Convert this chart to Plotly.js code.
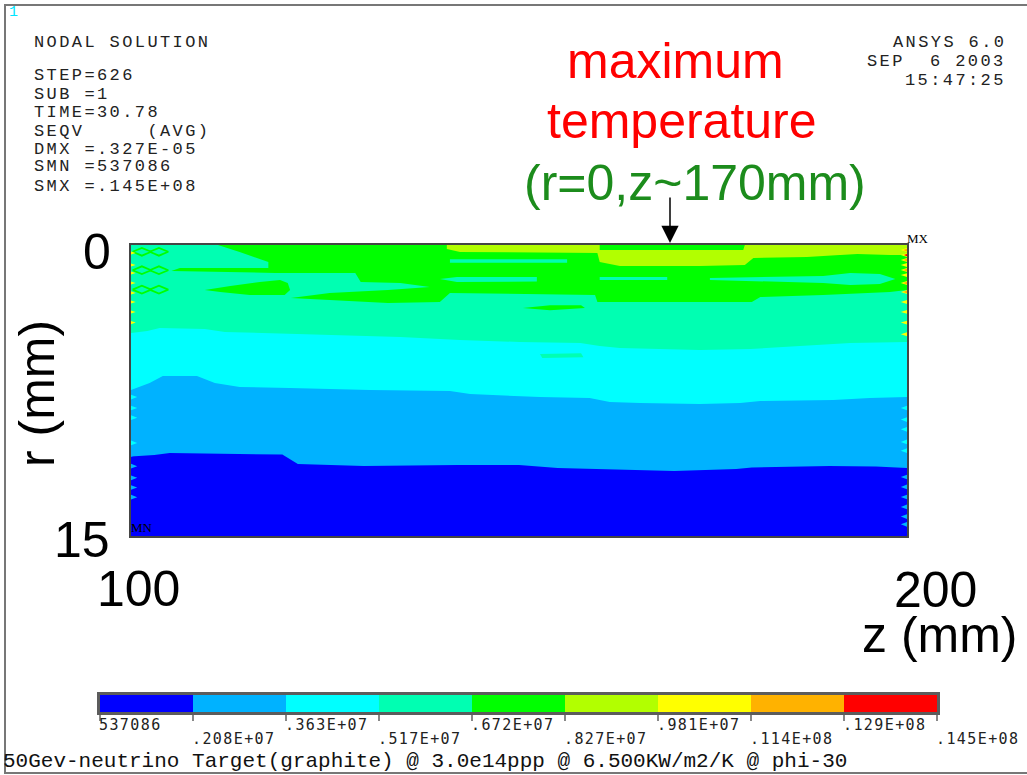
<!DOCTYPE html>
<html>
<head>
<meta charset="utf-8">
<script src="https://cdn.plot.ly/plotly-3.0.1.min.js"></script>
<style>html,body{margin:0;padding:0;background:#fff;}#chart{width:1027px;height:775px;}</style>
</head>
<body>
<div id="chart"></div>
<script>
// ---------------- DATA ----------------
// contour levels (SEQV) and legend labels
const levels = [537086, 2080000, 3630000, 5170000, 6720000, 8270000, 9810000, 11400000, 12900000, 14500000];
const levelLabels = ['537086', '.208E+07', '.363E+07', '.517E+07', '.672E+07', '.827E+07', '.981E+07', '.114E+08', '.129E+08', '.145E+08'];
const bandColors = ['#0000FF', '#00B2FF', '#00FFFF', '#00FFB2', '#00FF00', '#B2FF00', '#FFFF00', '#FFB200', '#FF0000'];

// header texts
const infoLines = ['STEP=626', 'SUB =1', 'TIME=30.78', 'SEQV     (AVG)', 'DMX =.327E-05', 'SMN =537086', 'SMX =.145E+08'];
const stampLines = ['ANSYS 6.0', 'SEP  6 2003', '15:47:25'];

// Band boundaries: r (mm) as a function of z (mm)
const edgeBottom_z = [100, 200];
const edgeBottom_r = [15, 15];

const b1_z = [100, 103, 105, 119.5, 121.5, 130, 142, 150, 155, 161, 170, 178, 180, 190, 196, 200];
const b1_r = [10.9, 10.82, 10.72, 10.8, 11.29, 11.39, 11.34, 11.34, 11.5, 11.55, 11.65, 11.55, 11.47, 11.39, 11.42, 11.5];

const b2_z = [100, 102.4, 104.1, 108.5, 110.8, 114, 120.5, 130.8, 141.1, 143.7, 152.7, 159.1, 161.7, 165.6, 173.3, 178.5, 181.1, 190.5, 195.2, 200];
const b2_r = [7.47, 7.11, 6.75, 6.75, 7.11, 7.32, 7.37, 7.47, 7.53, 7.68, 7.84, 7.89, 8.09, 8.14, 8.2, 8.14, 8.04, 7.99, 7.89, 7.84];

const b3_z = [100, 102.1, 103.7, 109.5, 112.1, 120.5, 125.6, 134.7, 142.4, 150.1, 157.9, 160.4, 163, 173.3, 179.8, 186.2, 192.7, 200];
const b3_r = [4.54, 4.43, 4.28, 4.33, 4.48, 4.59, 4.64, 4.74, 4.9, 5.0, 5.05, 5.21, 5.31, 5.41, 5.36, 5.21, 5.05, 5.0];

// Green (.672E+07 - .827E+07) regions
const greenMain_z = [111.2, 200, 200, 197.8, 189.2, 181.1, 180.0, 160.1, 159.8, 152.7, 141.1, 139.8, 133.1, 120.6, 125.6, 133.1, 138.5, 134.7, 129.6, 128.9, 118.6, 105.2, 106.3, 117.7, 117.7, 114.0];
const greenMain_r = [0, 0, 2.32, 2.42, 2.58, 2.68, 2.94, 2.94, 2.58, 2.53, 2.47, 2.94, 2.99, 2.73, 2.47, 2.32, 2.16, 1.96, 1.91, 1.44, 1.44, 1.34, 1.19, 1.19, 0.88, 0.36];
const greenTongue_z = [109.5, 112.8, 116.6, 119.2, 120.2, 120.5, 119.8, 115.3, 111.5];
const greenTongue_r = [2.32, 2.11, 1.91, 1.80, 1.96, 2.32, 2.58, 2.58, 2.42];
const greenSliver_z = [150.5, 154, 158, 158.5, 154];
const greenSliver_r = [3.25, 3.1, 3.1, 3.25, 3.36];
// green diamond chains near the left edge (z centres, r centres)
const diamond_z = [101.4, 103.6, 101.4, 103.6, 101.4, 103.6];
const diamond_r = [0.35, 0.35, 1.3, 1.3, 2.3, 2.3];

// Aqua (.517E+07 - .672E+07) streaks inside the green zone
const aqua1_z = [139.8, 142, 152.3, 152.3, 142];
const aqua1_r = [1.75, 1.65, 1.65, 1.88, 1.91];
const aqua2_z = [160.4, 169.1, 169.1, 160.4];
const aqua2_r = [1.65, 1.65, 1.80, 1.80];
const aqua3_z = [174.6, 189.2, 192.7, 196.5, 198.5, 196.5, 192.7, 189.2, 174.6];
const aqua3_r = [1.70, 1.60, 1.44, 1.49, 1.75, 2.01, 2.06, 1.96, 1.80];
const aqua4_z = [141.1, 156.2, 156.2, 141.1];
const aqua4_r = [0.74, 0.74, 0.92, 0.92];
const aquaSliver_z = [152.7, 158, 158.3, 153];
const aquaSliver_r = [5.62, 5.58, 5.78, 5.82];

// Yellow-green (.827E+07 - .981E+07) regions
const ygTop_z = [140.7, 160.4, 160.4, 142.4, 140.7];
const ygTop_r = [0, 0, 0.41, 0.36, 0.21];
const ygMain_z = [160.1, 178.9, 179.1, 200, 200, 197.8, 193.6, 187.1, 180.2, 179.1, 173.3, 163, 160.4, 160.1];
const ygMain_r = [0.26, 0.26, 0, 0, 0.52, 0.52, 0.46, 0.62, 0.67, 1.03, 1.08, 1.08, 0.88, 0.41];

// Jagged edge spikes (r centres)
const rightYellowR = [0.26, 0.52, 0.77, 1.03, 1.29, 1.55, 1.96, 2.42, 2.94, 3.45, 4.0, 4.6];
const rightOrangeR = [0.26, 0.77, 1.29, 1.96, 2.42];
const rightRedR = [0.52];
const leftYellowR = [0.41, 1.03, 1.44, 1.96, 2.47, 2.94, 3.45, 4.0];
const leftCyanR = [7.84, 8.4, 8.9, 10.2];
const leftLightBlueR = [10.8, 11.4, 12.0, 12.5, 13.0];
const rightCyanR = [8.4, 9.0, 9.5, 10.15, 10.6];
const rightLightBlueR = [11.96, 12.47, 12.99, 13.5, 14.0, 14.4];

// ---------------- DRAWING ----------------
const W = 1027, H = 775;
const PX0 = 131, PX1 = 907, PY0 = 245, PY1 = 536;

function band(z, r, color) {
  return {type: 'scatter', x: z, y: r, mode: 'lines', line: {width: 0, color: color},
          fill: 'tozeroy', fillcolor: color, hoverinfo: 'skip', showlegend: false, xaxis: 'x', yaxis: 'y'};
}
function poly(z, r, color) {
  return {type: 'scatter', x: z, y: r, mode: 'lines', line: {width: 0, color: color},
          fill: 'toself', fillcolor: color, hoverinfo: 'skip', showlegend: false, xaxis: 'x', yaxis: 'y'};
}
function spikes(side, rs, color, depth, half) {
  const xs = [], ys = [];
  const edge = side === 'left' ? 100 : 200;
  const tip = side === 'left' ? 100 + depth : 200 - depth;
  rs.forEach(r => { xs.push(edge, tip, edge, edge, null); ys.push(r - half, r, r + half, r - half, null); });
  return {type: 'scatter', x: xs, y: ys, mode: 'lines', line: {width: 0, color: color},
          fill: 'toself', fillcolor: color, hoverinfo: 'skip', showlegend: false, connectgaps: false};
}
function diamonds(zc, rc, color) {
  const xs = [], ys = [];
  zc.forEach((z, i) => {
    const r = rc[i];
    xs.push(z - 1.2, z, z + 1.2, z, z - 1.2, null);
    ys.push(r, r - 0.2, r, r + 0.2, r, null);
  });
  return {type: 'scatter', x: xs, y: ys, mode: 'lines', line: {width: 1.8, color: color},
          hoverinfo: 'skip', showlegend: false, connectgaps: false};
}

const traces = [
  band(edgeBottom_z, edgeBottom_r, bandColors[0]),
  band(b1_z, b1_r, bandColors[1]),
  band(b2_z, b2_r, bandColors[2]),
  band(b3_z, b3_r, bandColors[3]),
  spikes('left', leftLightBlueR, bandColors[1], 0.8, 0.12),
  spikes('right', rightLightBlueR, bandColors[1], 0.8, 0.12),
  spikes('left', leftCyanR, bandColors[2], 0.8, 0.12),
  spikes('right', rightCyanR, bandColors[2], 0.8, 0.12),
  poly(greenMain_z, greenMain_r, bandColors[4]),
  poly(greenTongue_z, greenTongue_r, bandColors[4]),
  poly(greenSliver_z, greenSliver_r, bandColors[4]),
  diamonds(diamond_z, diamond_r, bandColors[4]),
  poly(aqua1_z, aqua1_r, bandColors[3]),
  poly(aqua2_z, aqua2_r, bandColors[3]),
  poly(aqua3_z, aqua3_r, bandColors[3]),
  poly(aqua4_z, aqua4_r, bandColors[3]),
  poly(aquaSliver_z, aquaSliver_r, bandColors[3]),
  poly(ygTop_z, ygTop_r, bandColors[5]),
  poly(ygMain_z, ygMain_r, bandColors[5]),
  spikes('right', rightYellowR, bandColors[6], 0.8, 0.1),
  spikes('left', leftYellowR, bandColors[6], 0.6, 0.08),
  spikes('right', rightOrangeR, bandColors[7], 0.5, 0.07),
  spikes('right', rightRedR, bandColors[8], 0.4, 0.06),
  // legend bar
  {type: 'bar', x: bandColors.map((c, i) => i + 0.5), y: bandColors.map(() => 1), width: bandColors.map(() => 1),
   marker: {color: bandColors, line: {width: 0}}, xaxis: 'x2', yaxis: 'y2', hoverinfo: 'skip', showlegend: false}
];

function pa(text, x, y, o) {
  return Object.assign({xref: 'paper', yref: 'paper', x: x / W, y: 1 - y / H, text: text, showarrow: false,
                        xanchor: 'center', yanchor: 'middle'}, o || {});
}
function spaced(t, px) { return '<span style="letter-spacing:' + px + 'px">' + t + '</span>'; }
const big = {family: 'Liberation Sans, Arial, sans-serif', size: 50, color: '#000'};
const mono = {family: 'Liberation Mono, DejaVu Sans Mono, monospace', size: 17, color: '#222'};
const annotations = [
  pa('1', 13, 13, {font: {family: 'Liberation Mono, monospace', size: 15, color: '#00E5FF'}}),
  pa(spaced('NODAL SOLUTION', 2.4), 32, 43, {xanchor: 'left', font: mono}),
  pa('maximum', 675, 61, {font: Object.assign({}, big, {color: '#FF0000'})}),
  pa('temperature', 682, 121, {font: Object.assign({}, big, {color: '#FF0000'})}),
  pa('(r=0,z~170mm)', 695, 183, {font: Object.assign({}, big, {color: '#1C8C1C'})}),
  pa('', 670, 243, {showarrow: true, ax: 0, ay: -47, arrowhead: 2, arrowsize: 2.3, arrowwidth: 1.5, arrowcolor: '#000'}),
  pa('0', 97, 252, {font: big}),
  pa('15', 82, 540, {font: big}),
  pa('100', 138, 589, {font: big}),
  pa('200', 935, 590, {font: big}),
  pa('z (mm)', 940, 635, {font: big}),
  pa('r (mm)', 37, 394, {font: big, textangle: -90}),
  pa('MN', 142, 527, {font: {family: 'Liberation Serif, serif', size: 13, color: '#000'}}),
  pa('MX', 918, 238, {font: {family: 'Liberation Serif, serif', size: 13, color: '#000'}}),
  pa('50Gev-neutrino Target(graphite) @ 3.0e14ppp @ 6.500KW/m2/K @ phi-30', 1, 761,
     {xanchor: 'left', font: {family: 'Liberation Mono, monospace', size: 21, color: '#111'}})
];
const infoY = [76, 94, 112, 131, 149, 167, 186];
infoLines.forEach((t, i) => annotations.push(pa(spaced(t, 2.4), 32, infoY[i], {xanchor: 'left', font: mono})));
const stampY = [42, 61, 80];
stampLines.forEach((t, i) => annotations.push(pa(spaced(t, 2.4), 1008, stampY[i], {xanchor: 'right', font: mono})));
levelLabels.forEach((t, i) => {
  annotations.push({xref: 'x2', yref: 'paper', x: i, y: 1 - (i % 2 === 0 ? 725 : 739) / H, text: spaced(t, 1.4),
    showarrow: false, xanchor: 'left', yanchor: 'middle', xshift: -3,
    font: {family: 'DejaVu Sans Mono, monospace', size: 15, color: '#222'}});
});

const axBase = {showgrid: false, zeroline: false, showticklabels: false, ticks: '', showline: true, mirror: true,
                linecolor: '#454545', linewidth: 2, fixedrange: true};
const layout = {
  width: W, height: H,
  margin: {l: 0, r: 0, t: 0, b: 0},
  paper_bgcolor: '#fff', plot_bgcolor: '#fff',
  showlegend: false,
  xaxis: Object.assign({}, axBase, {domain: [PX0 / W, PX1 / W], range: [100, 200], anchor: 'y'}),
  yaxis: Object.assign({}, axBase, {domain: [1 - PY1 / H, 1 - PY0 / H], range: [15, 0], anchor: 'x'}),
  xaxis2: Object.assign({}, axBase, {domain: [100 / W, 937 / W], range: [0, 9], anchor: 'y2', linecolor: '#5c5c5c',
    linewidth: 3, ticks: 'outside', tickvals: levels.map((v, i) => i), ticklen: 6, tickcolor: '#888', tickwidth: 1.5}),
  yaxis2: Object.assign({}, axBase, {domain: [1 - 712 / H, 1 - 695 / H], range: [0, 1], anchor: 'x2', linecolor: '#5c5c5c', linewidth: 3}),
  annotations: annotations,
  shapes: [
    {type: 'rect', xref: 'paper', yref: 'paper', x0: 5 / W, x1: 1040 / W, y0: 1 - 773 / H, y1: 1 - 5 / H,
     line: {color: '#777', width: 2}, fillcolor: 'rgba(0,0,0,0)', layer: 'below'}
  ]
};

Plotly.newPlot('chart', traces, layout, {staticPlot: true, displayModeBar: false});
</script>
</body>
</html>
